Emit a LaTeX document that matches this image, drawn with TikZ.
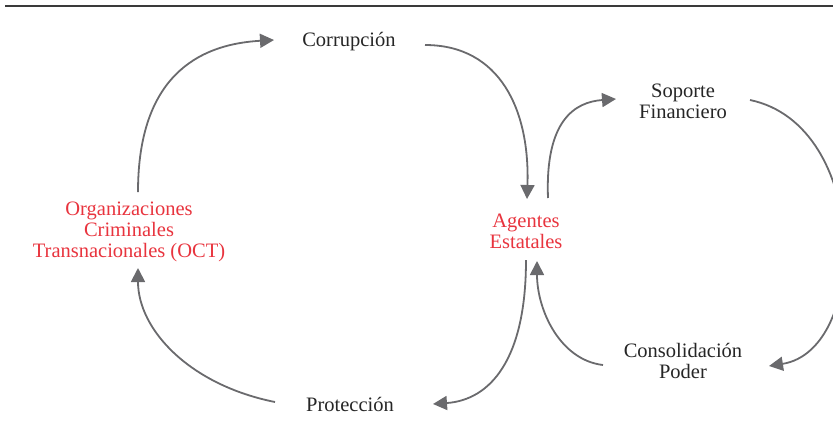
\documentclass[tikz,border=0pt]{standalone}
\usepackage{fontspec}
\setmainfont{Liberation Serif}
\usetikzlibrary{arrows.meta,calc}
\definecolor{flowgray}{HTML}{6A6A6D}
\definecolor{actorred}{HTML}{E8343E}
\definecolor{textdark}{HTML}{262626}
\definecolor{rulegray}{HTML}{3A3A3A}
\tikzset{
  lbl/.style={align=center, inner sep=0pt, text=textdark,
              font=\fontsize{20.5}{21}\selectfont},
  actor/.style={lbl, text=actorred},
  flow/.style={draw=flowgray, line width=1.8pt,
               -{Triangle[length=14pt,width=14pt]}},
}
\begin{document}
\begin{tikzpicture}[x=1pt,y=-1pt]
  \useasboundingbox (0,0) rectangle (833,432);
  % heading rule
  \draw[rulegray, line width=1.3pt] (5,6) -- (833,6);

  % stages of the cycle
  \node[lbl]   (corr) at (349,42)  {Corrupción};
  \node[actor] (oct)  at (129,232) {Organizaciones\\Criminales\\Transnacionales (OCT)};
  \node[actor] (agen) at (526,231) {Agentes\\Estatales};
  \node[lbl]   (sop)  at (683,101) {Soporte\\Financiero};
  \node[lbl]   (cons) at (683,361) {Consolidación\\Poder};
  \node[lbl]   (prot) at (350,404) {Protección};

  % outer cycle
  \draw[flow] ($(oct)+(9,-40)$) .. controls (138,90) and (185,45) .. ($(corr)+(-75,-2)$);
  \draw[flow] ($(corr)+(76,3)$) .. controls (500,45) and (530,110) .. ($(agen)+(1,-32)$);
  \draw[flow] ($(agen)+(0,29)$) .. controls (526,360) and (490,400) .. ($(prot)+(83,0)$);
  \draw[flow] ($(prot)+(-75,-2)$) .. controls (190,385) and (138,330) .. ($(oct)+(9,36)$);

  % inner cycle
  \draw[flow] ($(agen)+(22,-33)$) .. controls (545,120) and (575,102) .. ($(sop)+(-67,-2)$);
  \draw[flow] ($(sop)+(67,-1)$) .. controls (870,125) and (870,350) .. ($(cons)+(86,5)$);
  \draw[flow] ($(cons)+(-80,4)$) .. controls (560,360) and (537,310) .. ($(agen)+(11,30)$);
\end{tikzpicture}
\end{document}
